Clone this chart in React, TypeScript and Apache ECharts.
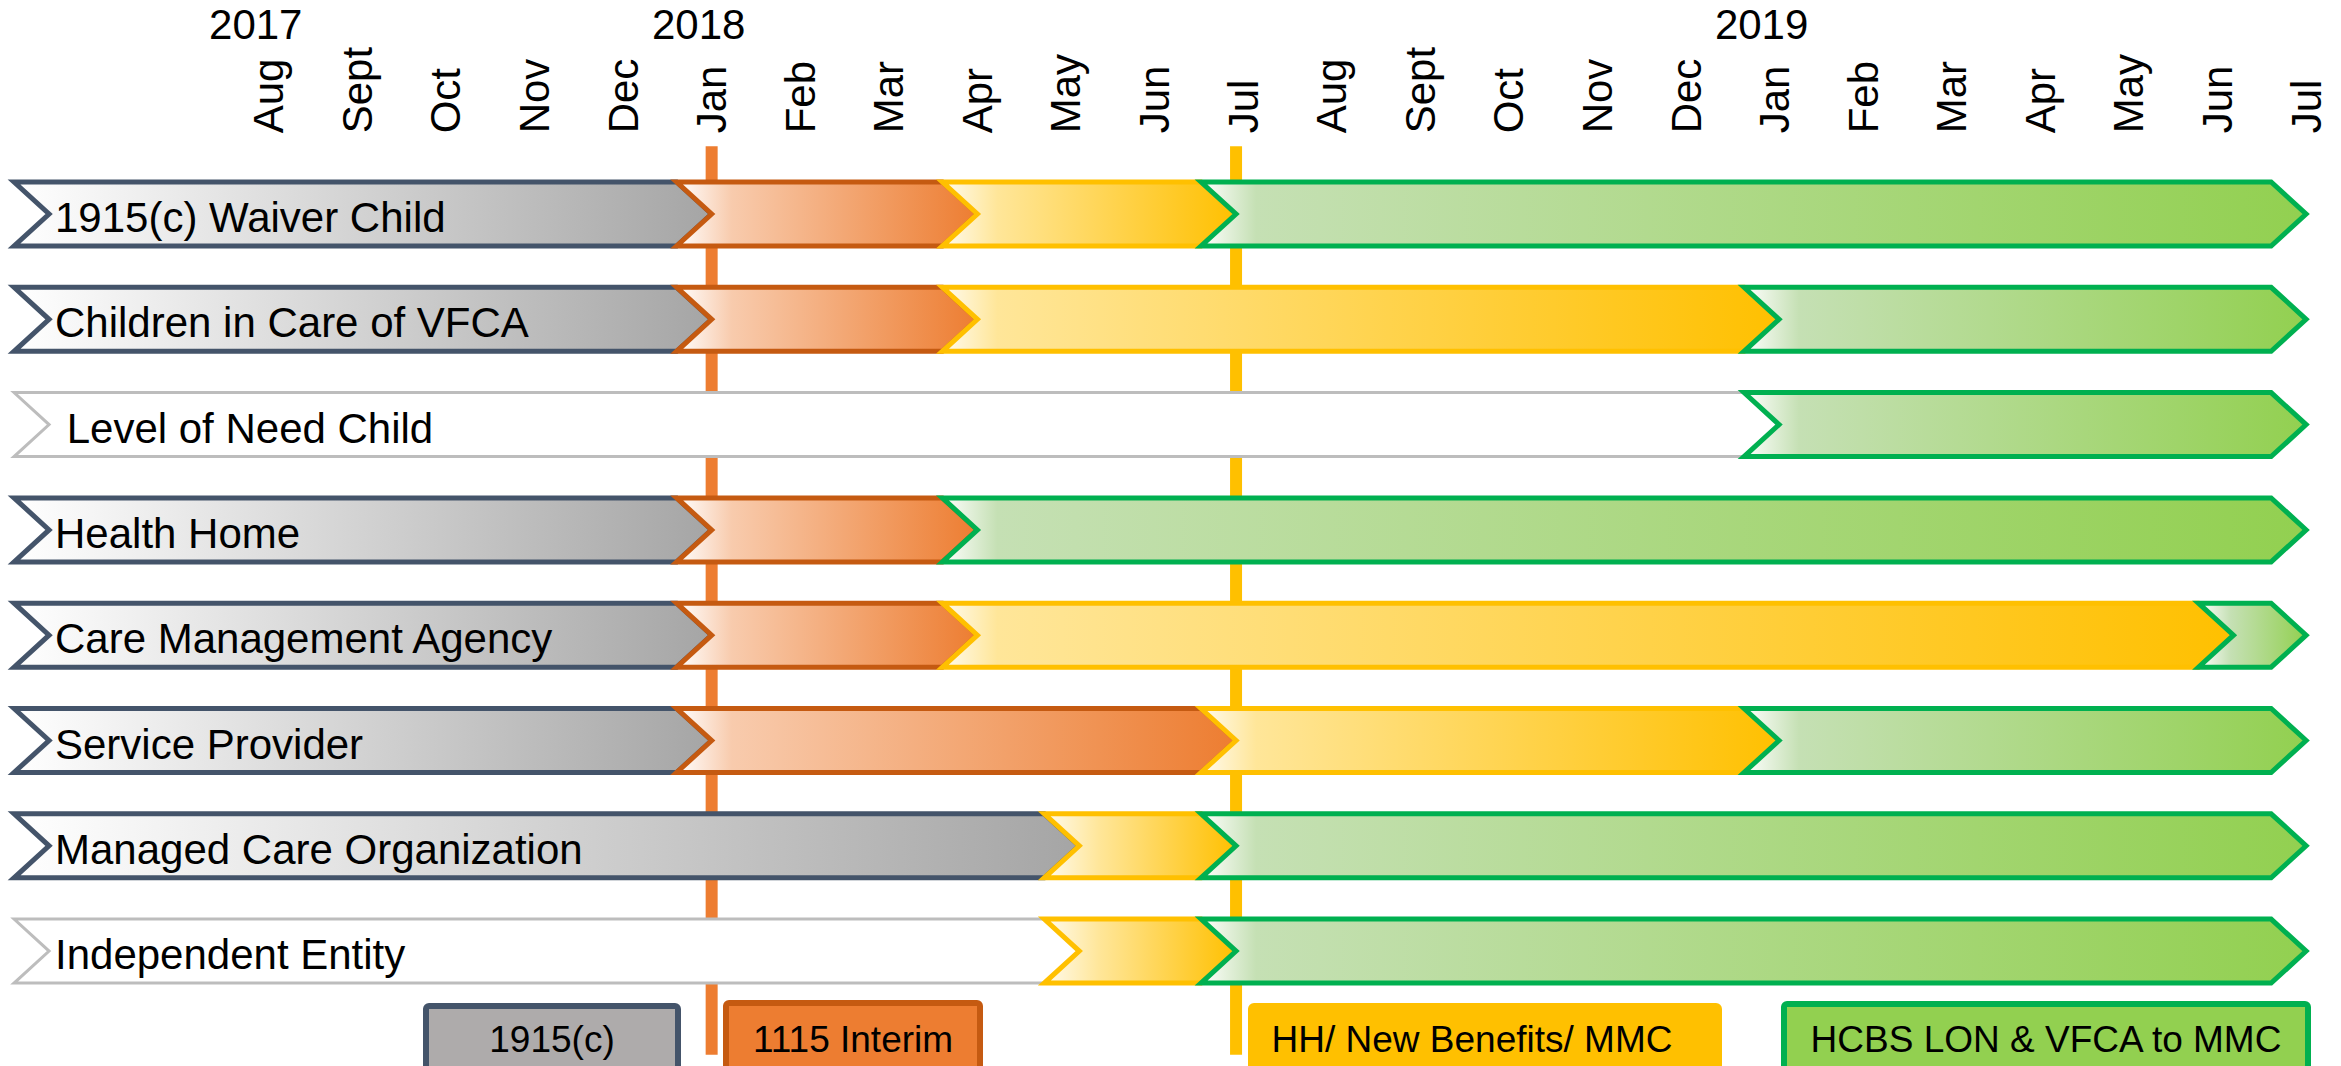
import React, { useEffect, useRef } from "react";
import * as echarts from "echarts";

// ---------- data ----------
const rowNames = [
  "1915(c) Waiver Child",
  "Children in Care of VFCA",
  " Level of Need Child",
  "Health Home",
  "Care Management Agency",
  "Service Provider",
  "Managed Care Organization",
  "Independent Entity",
];

// month index: 0 = Aug 2017 ... 23 = Jul 2019
const monthLabels = [
  "Aug", "Sept", "Oct", "Nov", "Dec",
  "Jan", "Feb", "Mar", "Apr", "May", "Jun", "Jul",
  "Aug", "Sept", "Oct", "Nov", "Dec",
  "Jan", "Feb", "Mar", "Apr", "May", "Jun", "Jul",
];
const yearTickMonths = [0, 5, 17];
const yearTickLabels = ["2017", "2018", "2019"];

// phase boundaries (in months) for each row, and the phase of each segment
const rowBoundaries = [
  [-2.48, 5, 8, 10.92, 23],
  [-2.48, 5, 8, 17.05, 23],
  [-2.48, 17.05, 23],
  [-2.48, 5, 8, 23],
  [-2.48, 5, 8, 22.18, 23],
  [-2.48, 5, 10.92, 17.05, 23],
  [-2.48, 9.15, 10.92, 23],
  [-2.48, 9.15, 10.92, 23],
];
const rowPhases = [
  ["c1915", "interim", "hh", "hcbs"],
  ["c1915", "interim", "hh", "hcbs"],
  ["none", "hcbs"],
  ["c1915", "interim", "hcbs"],
  ["c1915", "interim", "hh", "hcbs"],
  ["c1915", "interim", "hh", "hcbs"],
  ["c1915", "hh", "hcbs"],
  ["none", "hh", "hcbs"],
];

// milestone lines
const milestoneMonths = [5, 10.92];
const milestonePhases = ["interim", "hh"];

// legend
const legendPhases = ["c1915", "interim", "hh", "hcbs"];
const legendLabels = ["1915(c)", "1115 Interim", "HH/ New Benefits/ MMC", "HCBS LON & VFCA to MMC"];

// ---------- styles ----------
const phaseKeys = ["c1915", "none", "interim", "hh", "hcbs"];
const phaseStyle: Record<string, any> = {
  c1915: { stroke: "#44546A", lw: 5, start: "#FFFFFF", fade: null, end: "#A5A5A5", box: "#AEABAB", boxStroke: "#44546A" },
  none: { stroke: "#BDBDBD", lw: 3, start: "#FFFFFF", fade: null, end: "#FFFFFF" },
  interim: { stroke: "#C55A11", lw: 5, start: "#FFFFFF", fade: "#F8CBAD", end: "#ED7D31", box: "#ED7D31", boxStroke: "#C55A11", line: "#ED7D31" },
  hh: { stroke: "#FFC000", lw: 5, start: "#FFFBEF", fade: "#FFE699", end: "#FFC000", box: "#FFC000", boxStroke: "#FFC000", line: "#FFC000" },
  hcbs: { stroke: "#00B050", lw: 5, start: "#FFFFFF", fade: "#C5E0B4", end: "#92D050", box: "#92D050", boxStroke: "#00B050" },
};
const legendBoxes = [
  { x: 426, y: 1006, w: 252, tx: 552 },
  { x: 726, y: 1003, w: 254, tx: 853 },
  { x: 1251, y: 1006, w: 468, tx: 1472 },
  { x: 1784, y: 1004, w: 524, tx: 2046 },
];

const FONT = '"Liberation Sans", Arial, Helvetica, sans-serif';

export default function App() {
  const ref = useRef<HTMLDivElement>(null);

  useEffect(() => {
    document.body.style.margin = "0";
    if (!ref.current) return;
    const chart = echarts.init(ref.current, null, { renderer: "svg" });

    const segData: any[] = [];
    rowBoundaries.forEach((b, r) => {
      for (let i = 0; i < b.length - 1; i++) {
        segData.push([r, b[i], b[i + 1], phaseKeys.indexOf(rowPhases[r][i])]);
      }
    });
    const lineData = milestoneMonths.map((m, i) => [m, 0, phaseKeys.indexOf(milestonePhases[i])]);

    const D = 35;

    const graphicEls: any[] = legendLabels.map((lab, i) => {
      const st = phaseStyle[legendPhases[i]];
      const b = legendBoxes[i];
      return {
        type: "group",
        children: [
          {
            type: "rect",
            shape: { x: b.x, y: b.y, width: b.w, height: 90, r: 3 },
            style: { fill: st.box, stroke: st.boxStroke, lineWidth: 6 },
          },
          {
            type: "text",
            x: b.tx,
            y: 1039,
            style: { text: lab, fontSize: 37, fill: "#000", align: "center", verticalAlign: "middle", fontFamily: FONT },
          },
        ],
      };
    });

    chart.setOption({
      animation: false,
      textStyle: { fontFamily: FONT },
      grid: { left: 0, right: 0, top: 161.35, bottom: 62.25, containLabel: false },
      xAxis: [
        {
          type: "value",
          position: "top",
          min: -3,
          max: 23.36,
          interval: 1,
          axisLine: { show: false },
          axisTick: { show: false },
          splitLine: { show: false },
          axisLabel: {
            rotate: -90,
            margin: 28,
            fontSize: 42,
            color: "#000",
            fontFamily: FONT,
            padding: [0, 0, 12, 0],
            formatter: (v: number) => {
              const i = Math.round(v);
              return i >= 0 && i < monthLabels.length ? monthLabels[i] : "";
            },
          },
        },
        {
          type: "value",
          position: "top",
          offset: 108,
          min: -3,
          max: 23.36,
          interval: 1,
          axisLine: { show: false },
          axisTick: { show: false },
          splitLine: { show: false },
          axisLabel: {
            margin: 8,
            fontSize: 42,
            color: "#000",
            fontFamily: FONT,
            padding: [0, 26, 0, 0],
            formatter: (v: number) => {
              const i = yearTickMonths.indexOf(Math.round(v));
              return i >= 0 ? yearTickLabels[i] : "";
            },
          },
        },
      ],
      yAxis: {
        type: "category",
        data: rowNames,
        inverse: true,
        z: 10,
        axisLine: { show: false },
        axisTick: { show: false },
        splitLine: { show: false },
        axisLabel: {
          inside: true,
          margin: 52,
          fontSize: 42,
          color: "#000",
          fontFamily: FONT,
          verticalAlign: "top",
          lineHeight: 7,
        },
      },
      series: [
        {
          type: "custom",
          name: "milestones",
          z: 1,
          xAxisIndex: 0,
          data: lineData,
          encode: { x: 0, y: 1 },
          renderItem: (params: any, api: any) => {
            const x = api.coord([api.value(0), 0])[0];
            const cs = params.coordSys;
            const st = phaseStyle[phaseKeys[api.value(2)]];
            return {
              type: "rect",
              shape: { x: x - 6, y: cs.y - 15, width: 12, height: cs.height + 66 },
              style: { fill: st.line },
            };
          },
        },
        {
          type: "custom",
          name: "phases",
          z: 2,
          xAxisIndex: 0,
          data: segData,
          encode: { x: [1, 2], y: 0 },
          renderItem: (params: any, api: any) => {
            const row = api.value(0);
            const s = api.coord([api.value(1), row]);
            const e = api.coord([api.value(2), row]);
            const band = api.size([0, 1])[1];
            const h = band * 0.304;
            const yc = s[1];
            const x0 = s[0];
            const x1 = e[0];
            const st = phaseStyle[phaseKeys[api.value(3)]];
            const w = x1 - (x0 - D);
            const stops: any[] = [{ offset: 0, color: st.start }];
            if (st.fade) stops.push({ offset: Math.min(0.3, 55 / w), color: st.fade });
            stops.push({ offset: 1, color: st.end });
            return {
              type: "polygon",
              shape: {
                points: [
                  [x0 - D, yc - h],
                  [x1 - D, yc - h],
                  [x1, yc],
                  [x1 - D, yc + h],
                  [x0 - D, yc + h],
                  [x0, yc],
                ],
              },
              style: {
                fill: new echarts.graphic.LinearGradient(0, 0, 1, 0, stops),
                stroke: st.stroke,
                lineWidth: st.lw,
                lineJoin: "miter",
              },
            };
          },
        },
      ],
      graphic: graphicEls,
    });

    return () => chart.dispose();
  }, []);

  return <div ref={ref} style={{ width: 2341, height: 1066 }} />;
}
